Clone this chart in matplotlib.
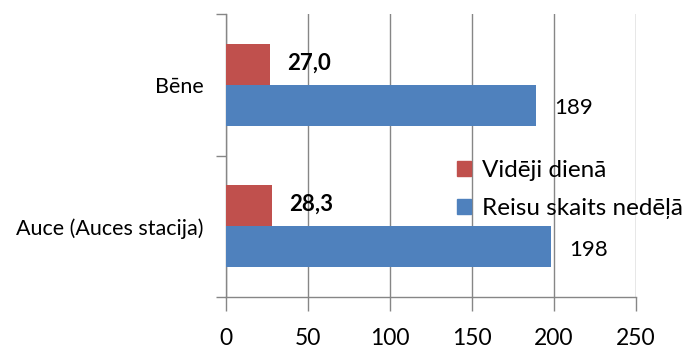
import numpy as np
import matplotlib.pyplot as plt
from matplotlib.patches import Patch

# =========================================================
# DATA
# =========================================================

categories = ["Auce (Auces stacija)", "Bēne"]
series_names = ["Vidēji dienā", "Reisu skaits nedēļā"]
vid_dien = [28.3, 27.0]
reisu_ned = [198, 189]
x_ticks = [0, 50, 100, 150, 200, 250]

RED = "#C0504D"
BLUE = "#4F81BD"
GRID = "#868686"

plt.rcParams['font.family'] = ['Lato', 'DejaVu Sans']

# =========================================================
# PLOT
# =========================================================

fig = plt.figure(figsize=(6.89, 3.52), dpi=100)
ax = fig.add_axes([0.328, 0.156, 0.595, 0.804])

y = np.arange(len(categories))
h = 0.29

ax.barh(y - h / 2, reisu_ned, height=h, color=BLUE, zorder=3)
ax.barh(y + h / 2, vid_dien, height=h, color=RED, zorder=3)

for i in range(len(categories)):
    ax.annotate(f"{vid_dien[i]:.1f}".replace(".", ","), (vid_dien[i], y[i] + h / 2),
                xytext=(12, 1), textcoords="offset points", va="center", ha="left",
                fontsize=16, fontweight="bold")
    ax.annotate(f"{reisu_ned[i]}", (reisu_ned[i], y[i] - h / 2),
                xytext=(13, -2), textcoords="offset points", va="center", ha="left",
                fontsize=16)

ax.set_xlim(0, 250)
ax.set_ylim(-0.5, len(categories) - 0.5)
ax.set_xticks(x_ticks)
ax.set_xticklabels([str(t) for t in x_ticks], fontsize=16.5)
ax.grid(axis="x", color=GRID, linewidth=1, zorder=0)

# category boundaries as major ticks, labels as minor
ax.set_yticks(np.arange(len(categories) + 1) - 0.5)
ax.set_yticklabels([])
ax.set_yticks(y, minor=True)
ax.set_yticklabels(categories, minor=True, fontsize=15.5)
ax.tick_params(axis="y", which="minor", length=0, pad=16)
ax.tick_params(axis="y", which="major", length=7, color=GRID, width=1)
ax.tick_params(axis="x", length=10, color=GRID, width=1, pad=12)

for s in ["top", "right"]:
    ax.spines[s].set_visible(False)
for s in ["left", "bottom"]:
    ax.spines[s].set_color(GRID)
    ax.spines[s].set_linewidth(1)

handles = [Patch(color=RED), Patch(color=BLUE)]
ax.legend(handles, series_names, loc="center left", bbox_to_anchor=(0.563, 0.38),
          frameon=False, fontsize=17.5, handlelength=0.6, handleheight=0.6,
          handletextpad=0.45, labelspacing=0.7, borderpad=0, borderaxespad=0)

plt.savefig("out.png", dpi=100)
